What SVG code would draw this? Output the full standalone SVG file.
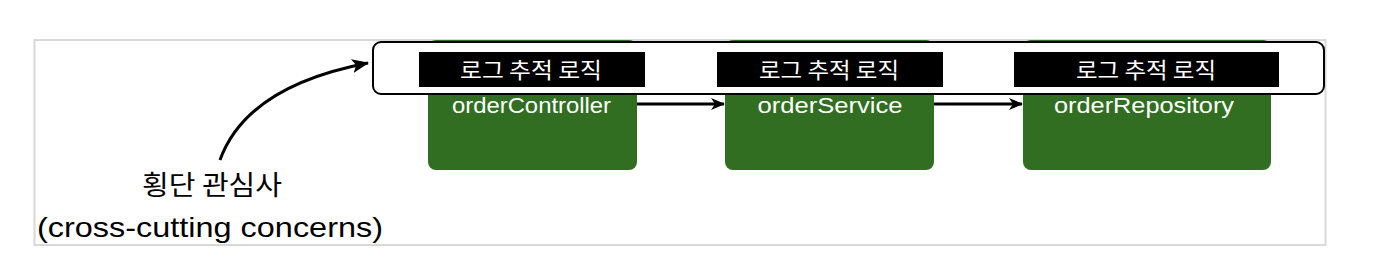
<svg xmlns="http://www.w3.org/2000/svg" width="1388" height="276" viewBox="0 0 1388 276">
<style>
.svc{fill:#326e22;}
.tag{fill:#000;}
.tagt{fill:#fff;font-family:"Noto Sans CJK KR","Noto Sans",sans-serif;font-size:22px;text-anchor:middle;}
.name{fill:#fff;font-family:"Liberation Sans",Arial,sans-serif;font-size:22px;text-anchor:middle;}
.lbl{fill:#000;font-family:"Liberation Sans","Noto Sans CJK KR",sans-serif;font-size:28px;text-anchor:middle;}
.lblk{fill:#000;font-family:"Noto Sans CJK KR",sans-serif;font-size:27px;text-anchor:middle;}
.conn{stroke:#000;stroke-width:3;fill:none;}
</style>
<defs>
<marker id="ah" markerWidth="14" markerHeight="14" refX="13" refY="7" orient="auto" markerUnits="userSpaceOnUse">
<path d="M0,1 L14,7 L0,13 L4,7 Z" fill="#000"/>
</marker>
<marker id="ah2" markerWidth="18" markerHeight="16" refX="16" refY="8" orient="auto" markerUnits="userSpaceOnUse">
<path d="M0,1 L17,8 L0,15 L4,8 Z" fill="#000"/>
</marker>
</defs>
<rect x="34.5" y="40" width="1291" height="205" fill="#fff" stroke="#d8d8d8" stroke-width="2"/>
<g id="orderController"><rect class="svc" x="428" y="40" width="209" height="130" rx="8"/></g>
<g id="orderService"><rect class="svc" x="725" y="40" width="209" height="130" rx="8"/></g>
<g id="orderRepository"><rect class="svc" x="1023" y="40" width="248" height="130" rx="8"/></g>
<g id="logBar">
<rect x="373" y="42" width="951" height="52" rx="8" fill="#fff" stroke="#000" stroke-width="2"/>
<rect class="tag" x="419" y="52" width="226" height="35"/>
<text class="tagt" x="531" y="78" textLength="142" lengthAdjust="spacingAndGlyphs">로그 추적 로직</text>
<rect class="tag" x="717" y="52" width="226" height="35"/>
<text class="tagt" x="829" y="78" textLength="140" lengthAdjust="spacingAndGlyphs">로그 추적 로직</text>
<rect class="tag" x="1014" y="52" width="265" height="35"/>
<text class="tagt" x="1146" y="78" textLength="140" lengthAdjust="spacingAndGlyphs">로그 추적 로직</text>
</g>
<text class="name" x="531.5" y="113" textLength="159" lengthAdjust="spacingAndGlyphs">orderController</text>
<text class="name" x="830" y="113" textLength="145" lengthAdjust="spacingAndGlyphs">orderService</text>
<text class="name" x="1144" y="113" textLength="180" lengthAdjust="spacingAndGlyphs">orderRepository</text>
<g id="connectors">
<line class="conn" x1="637" y1="104" x2="724" y2="104" marker-end="url(#ah)"/>
<line class="conn" x1="934" y1="104" x2="1022" y2="104" marker-end="url(#ah)"/>
<path class="conn" d="M220,160 C238,110 290,78 368,63" stroke-width="3.5" marker-end="url(#ah2)"/>
</g>
<g id="label">
<text class="lblk" x="212" y="195" textLength="140" lengthAdjust="spacingAndGlyphs">횡단 관심사</text>
<text class="lbl" x="210" y="237" textLength="346" lengthAdjust="spacingAndGlyphs">(cross-cutting concerns)</text>
</g>
</svg>
